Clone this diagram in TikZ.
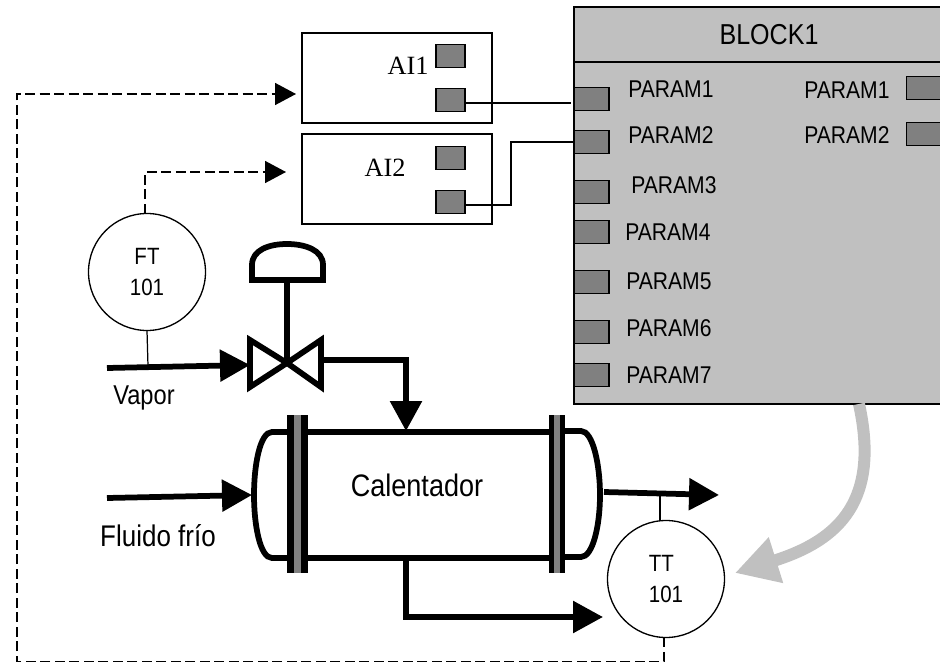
\documentclass[tikz,border=0pt]{standalone}
\usepackage{fontspec}
\setmainfont[FakeStretch=0.87]{Liberation Sans}
\newfontfamily\aifont{Liberation Serif}
\usetikzlibrary{arrows.meta,calc}
\definecolor{blockgray}{HTML}{C0C0C0}
\definecolor{portgray}{HTML}{808080}
\tikzset{
    portbox/.style={draw=black,line width=0.8pt,fill=portgray,minimum width=0.7cm,minimum height=0.47cm,inner sep=0pt,outer sep=0pt},
    aibox/.style={draw=black,line width=0.7pt,minimum width=3.8cm,minimum height=1.8cm,inner sep=0pt,outer sep=0pt},
    instr/.style={circle,draw=black,line width=0.75pt,minimum size=2.34cm,inner sep=0pt,outer sep=0pt,font=\fontsize{13.4}{17.6}\selectfont},
    paramlabel/.style={anchor=west,inner sep=0pt,font=\fontsize{13.8}{16}\selectfont},
    pipe/.style={line width=0.115cm,-{Triangle[length=0.6cm,width=0.62cm]}},
    vesselline/.style={line width=0.115cm},
    signal/.style={line width=0.7pt},
    dashedsignal/.style={line width=0.85pt,dash pattern=on 0.2cm off 0.09cm,-{Triangle[length=0.42cm,width=0.44cm]}},
    flange/.style={fill=black,minimum width=0.42cm,minimum height=3.16cm,inner sep=0pt,outer sep=0pt},
    flangecore/.style={fill=portgray,minimum width=0.13cm,minimum height=3.16cm,inner sep=0pt,outer sep=0pt}
}
\begin{document}
\begin{tikzpicture}[x=0.02cm,y=-0.02cm]
    \useasboundingbox (0,0) rectangle (940,662);

    % Function block
    \node[draw=black,line width=0.9pt,fill=blockgray,minimum width=7.5cm,minimum height=7.94cm,inner sep=0pt,outer sep=0pt] (block) at (761.5,205.5) {};
    \draw[line width=0.9pt] (574,62) -- (949,62);
    \node[font=\fontsize{16.4}{18}\selectfont] (title) at (769,35) {BLOCK1};

    % Left ports and their labels
    \foreach \n/\py/\lx/\ly in {1/99/628/89,2/142/628/135,3/192/631/185,4/232/625/232,5/282/626/281,6/332/626/328,7/375/626/375} {
        \node[portbox] (in\n) at (591.5,\py) {};
        \node[paramlabel] (inlabel\n) at (\lx,\ly) {PARAM\n};
    }

    % Right ports and their labels
    \foreach \n/\py/\ly in {1/88/90,2/134/135} {
        \node[portbox] (out\n) at (924,\py) {};
        \node[paramlabel] (outlabel\n) at (804,\ly) {PARAM\n};
    }

    % Input blocks
    \node[aibox] (ai1) at (397,78) {};
    \node[aibox] (ai2) at (397,179) {};
    \node[font=\aifont\fontsize{15}{17}\selectfont] (ai1text) at (408,66) {AI1};
    \node[font=\aifont\fontsize{15}{17}\selectfont] (ai2text) at (385,168) {AI2};
    \foreach \b/\ya/\yb in {1/56/100,2/158/202} {
        \node[portbox,minimum width=0.58cm] (ai\b a) at (450.5,\ya) {};
        \node[portbox,minimum width=0.58cm] (ai\b b) at (450.5,\yb) {};
    }

    % Wires to the block
    \draw[signal] (ai1b.east) ++(0,3) -- ++(106,0);
    \draw[signal] (ai2b.east) ++(0,3) -| (511,142) -- (in2.west);

    % Transmitters
    \node[instr,align=center] (ft) at (147,272) {FT\\101};
    \node[instr,align=left] (tt) at (666,579) {TT\\101};

    % Valve
    \coordinate (valve) at (287,363);
    \draw[vesselline] (valve) -- (250,340) -- (250,387) -- cycle;
    \draw[vesselline] (valve) -- (321,340) -- (321,387) -- cycle;
    \draw[vesselline] (valve) -- (287,280);
    \draw[vesselline] (252,280) -- (323,280) -- (323,265) .. controls (323,250) and (305,244) .. (287,244) .. controls (269,244) and (252,250) .. (252,265) -- cycle;

    % Vessel
    \node[vesselline,draw=black,minimum width=5.26cm,minimum height=2.52cm,inner sep=0pt,outer sep=0pt] (vessel) at (426.5,495) {};
    \draw[vesselline] (287,432) -- (272,432) .. controls (260,432) and (254,465) .. (254,495) .. controls (254,525) and (260,558) .. (272,558) -- (287,558);
    \draw[vesselline] (565,431) -- (581,431) .. controls (593,431) and (600,465) .. (600,495) .. controls (600,525) and (593,557) .. (581,557) -- (565,557);
    \node[flange] (flangeleft) at (297.5,494) {};
    \node[flangecore] (coreleft) at (297.5,494) {};
    \node[flange,minimum width=0.32cm] (flangeright) at (557,494) {};
    \node[flangecore] (coreright) at (557,494) {};
    \node[font=\fontsize{17.7}{20}\selectfont] (heater) at (417,485) {Calentador};

    % Pipes
    \coordinate (steamstart) at (107,368);
    \coordinate (valvein) at (250,365);
    \coordinate (valveout) at (321,360);
    \coordinate (vesseltop) at (406,431);
    \coordinate (coldstart) at (107,498);
    \coordinate (coldend) at (252,495);
    \coordinate (hotstart) at (604,492);
    \coordinate (hotend) at (719,495);
    \coordinate (drainstart) at (406,559);
    \coordinate (drainend) at (603,617);
    \draw[pipe] (steamstart) -- (valvein);
    \draw[pipe] (valveout) -| (vesseltop);
    \draw[pipe] (coldstart) -- (coldend);
    \draw[pipe] (hotstart) -- (hotend);
    \draw[pipe] (drainstart) |- (drainend);
    \node[font=\fontsize{15.5}{18}\selectfont] (steam) at (144,398) {Vapor};
    \node[font=\fontsize{17}{19}\selectfont] (cold) at (158,536) {Fluido frío};

    % Process taps
    \coordinate (steamtap) at (148,366);
    \coordinate (hottap) at (660,494);
    \draw[signal] (ft.south) -- (steamtap);
    \draw[signal] (tt.north -| hottap) -- (hottap);

    % Dashed signals
    \coordinate (ai1in) at (296,94);
    \coordinate (ai2in) at (286,172);
    \draw[dashedsignal] (tt.south) ++(-2,0) -- ++(0,24) -| (17,94) -- (ai1in);
    \draw[dashedsignal] (ft.north) ++(-2,0) |- (ai2in);

    % Gray arrow
    \coordinate (grayend) at (735,573);
    \draw[blockgray,line width=0.24cm,-{Triangle[length=0.86cm,width=0.9cm]}] ($(block.south west)!0.76!(block.south east)$) .. controls (880,500) and (840,540) .. (grayend);
\end{tikzpicture}
\end{document}
